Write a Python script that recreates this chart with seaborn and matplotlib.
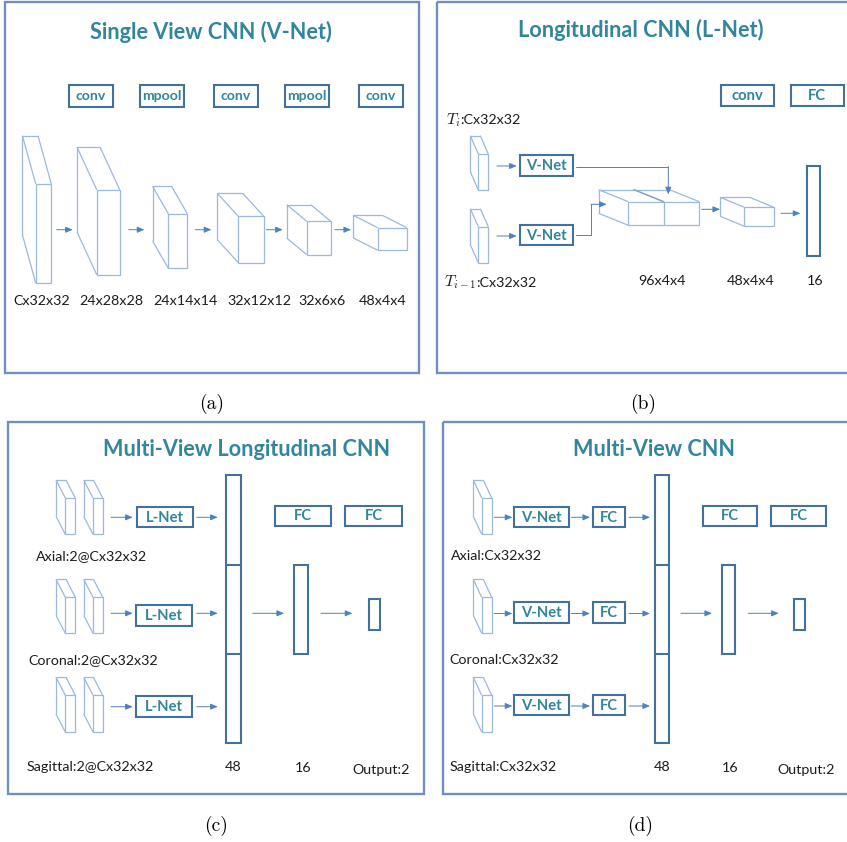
import matplotlib
matplotlib.use("Agg")
import matplotlib.pyplot as plt
from matplotlib.patches import Rectangle
import seaborn as sns

sns.set_theme(style="white")
plt.rcParams["font.family"] = ["Lato", "DejaVu Sans"]
plt.rcParams["mathtext.fontset"] = "cm"

# ---- text content ----
panel_titles = ["Single View CNN (V-Net)", "Longitudinal CNN (L-Net)",
                "Multi-View Longitudinal CNN", "Multi-View CNN"]
panel_tags = ["(a)", "(b)", "(c)", "(d)"]
vnet_ops = ["conv", "mpool", "conv", "mpool", "conv"]
vnet_shapes = ["Cx32x32", "24x28x28", "24x14x14", "32x12x12", "32x6x6", "48x4x4"]
lnet_ops = ["conv", "FC"]
lnet_times = [r"$T_i$", r"$T_{i-1}$"]
lnet_input_shape = ":Cx32x32"
lnet_shapes = ["96x4x4", "48x4x4", "16"]
views = ["Axial", "Coronal", "Sagittal"]
mvl_inputs = ["Axial:2@Cx32x32", "Coronal:2@Cx32x32", "Sagittal:2@Cx32x32"]
mv_inputs = ["Axial:Cx32x32", "Coronal:Cx32x32", "Sagittal:Cx32x32"]
fusion_sizes = ["48", "16", "Output:2"]
fusion_ops = ["FC", "FC"]

# ---- colours ----
TEAL = "#31859C"
EDGE = "#41719C"
FRAME = "#6F8FC0"
CUBE = "#9BB8E0"
ARROW = "#4F81BD"
INK = "#1c1c1c"

W, H = 847, 842
fig = plt.figure(figsize=(W / 100, H / 100), dpi=100)
ax = fig.add_axes([0, 0, 1, 1])
ax.set_xlim(0, W)
ax.set_ylim(H, 0)
ax.axis("off")
renderer = fig.canvas.get_renderer()


def fit_size(sample, width, **kw):
    t = ax.text(0, 0, sample, fontsize=10, **kw)
    w = t.get_window_extent(renderer).width
    t.remove()
    return 10 * width / w


TITLE_FS = fit_size(panel_titles[2], 271, weight="bold") * 1.06
LABEL_FS = fit_size(mvl_inputs[2], 124) * 1.02
OPA_FS = fit_size("mpool", 35, weight="bold") * 1.12
OP_FS = fit_size("V-Net", 38.7, weight="bold") * 1.05
TAG_FS = 14


def frame(x0, y0, x1, y1):
    ax.add_patch(Rectangle((x0, y0), x1 - x0, y1 - y0, fill=False,
                           ec=FRAME, lw=1.7))


def op_box(x0, y0, x1, y1, label, fs=None):
    ax.add_patch(Rectangle((x0, y0), x1 - x0, y1 - y0, fill=False,
                           ec=EDGE, lw=1.5))
    ax.text((x0 + x1) / 2, (y0 + y1) / 2 + 0.5, label, ha="center",
            va="center", color=TEAL, weight="bold", fontsize=fs or OP_FS)


def column(x0, y0, x1, y1, splits=()):
    ax.add_patch(Rectangle((x0, y0), x1 - x0, y1 - y0, fill=False,
                           ec=EDGE, lw=1.5))
    for s in splits:
        ax.plot([x0, x1], [s, s], color=EDGE, lw=1.5)


def cube(fx0, fy0, fx1, fy1, dx, dy, split=None):
    kw = dict(color=CUBE, lw=0.9, solid_capstyle="butt")
    ax.add_patch(Rectangle((fx0, fy0), fx1 - fx0, fy1 - fy0, fill=False,
                           ec=CUBE, lw=0.9))
    bx0, bx1, by0, by1 = fx0 + dx, fx1 + dx, fy0 + dy, fy1 + dy
    ax.plot([bx0, bx1], [by0, by0], **kw)
    ax.plot([bx0, bx0], [by0, by1], **kw)
    ax.plot([fx0, bx0], [fy0, by0], **kw)
    ax.plot([fx1, bx1], [fy0, by0], **kw)
    ax.plot([fx0, bx0], [fy1, by1], **kw)
    if split is not None:
        ax.plot([split, split], [fy0, fy1], **kw)
        ax.plot([split, split + dx], [fy0, by0], color="#7FA0CF", lw=1.1)


def arrow(x0, y0, x1, y1):
    ax.annotate("", xy=(x1, y1), xytext=(x0, y0),
                arrowprops=dict(arrowstyle="-|>,head_length=0.7,head_width=0.3",
                                color=ARROW, lw=0.7, shrinkA=0, shrinkB=0,
                                mutation_scale=6))


def label(x, y, s, ha="center", fs=None, va="center"):
    return ax.text(x, y, s, ha=ha, va=va, color=INK, fontsize=fs or LABEL_FS)


def title(x, y, s):
    ax.text(x, y, s, ha="center", va="center", color=TEAL, weight="bold",
            fontsize=TITLE_FS)


def tag(x, y, s):
    ax.text(x, y, s, ha="center", va="center", color="black",
            fontsize=TAG_FS, family="cmr10")


# ================= (a) single view CNN =================
frame(5, 2, 419, 373)
title(211, 32, panel_titles[0])
op_x = [(69, 113), (140, 184), (214, 258), (285, 329), (359, 403)]
for (x0, x1), op in zip(op_x, vnet_ops):
    op_box(x0, 85, x1, 107, op, OPA_FS)
cubes_a = [(35.7, 184, 51.3, 283, -13.3, -48.3),
           (96.7, 189.7, 119.7, 274.7, -19.7, -42.7),
           (168.3, 213.7, 187.3, 268.3, -15.7, -27.3),
           (238.3, 216.3, 263.7, 262.7, -21, -23),
           (306.7, 221.3, 330.7, 254.7, -20, -16.7),
           (377.7, 227.7, 406.7, 250.3, -24.3, -12.3)]
for c in cubes_a:
    cube(*c)
for x0, x1 in [(56.7, 72.7), (128.7, 144.3), (195.3, 211.3),
               (266.3, 282.7), (335, 351)]:
    arrow(x0, 229.7, x1, 229.7)
for x, s in zip([41.2, 111.7, 185.2, 259.3, 322.3, 382.3], vnet_shapes):
    label(x, 300.7, s)
tag(212, 404, panel_tags[0])

# ================= (b) longitudinal CNN =================
frame(437.3, 2, 849, 373)
title(640.8, 30, panel_titles[1])
op_box(721, 85, 774, 106, lnet_ops[0])
op_box(790.7, 85, 843.7, 106, lnet_ops[1])
for xt, y, t in zip([446, 444.5], [124, 286.7], lnet_times):
    m = label(xt, y, t, ha="left", fs=LABEL_FS * 1.12, va="baseline")
    x_end = ax.transData.inverted().transform(
        (m.get_window_extent(renderer).x1, 0))[0]
    label(x_end - 1.0, y, lnet_input_shape, ha="left", va="baseline")
cube(478.3, 154, 488.3, 190, -8, -18.3)
cube(478.3, 226.7, 488.3, 262.7, -8, -18)
arrow(497, 166, 516.7, 166)
arrow(497, 236, 516.7, 236)
op_box(520.3, 155.3, 573.3, 175.7, "V-Net")
op_box(520.3, 225, 573.3, 245.3, "V-Net")
cube(628.3, 201.7, 699.3, 225.3, -29.7, -12, split=663.7)
ax.plot([575.7, 668.3], [166.7, 166.7], color=ARROW, lw=0.7)
arrow(668.3, 166.7, 668.3, 194.3)
ax.plot([575.7, 591, 591], [235.3, 235.3, 204.3], color=ARROW, lw=0.7)
arrow(591, 204.3, 606.7, 204.3)
arrow(701.7, 209.3, 720, 209.3)
cube(744.3, 207.3, 773.7, 226.3, -24, -10)
arrow(781, 213.3, 800.3, 213.3)
column(807, 166.3, 820.3, 256)
for x, s in zip([662.2, 750.7, 814.7], lnet_shapes):
    label(x, 281, s)
tag(643, 404, panel_tags[1])

# shared layout of the multi-view rows
row_front = [(498, 534.3), (597.3, 633.3), (695.3, 732)]
row_mid = [517.3, 613.3, 706.7]
label_y = [555.7, 660, 767.3]

# ================= (c) multi-view longitudinal CNN =================
frame(8.3, 421.7, 424, 794)
title(246.7, 450, panel_titles[2])
lnet_boxes = [(137.3, 506.7, 192.7, 527.3), (136, 605, 192, 625.7),
              (136, 696, 192, 716.7)]
for (fy0, fy1), ym, bx in zip(row_front, row_mid, lnet_boxes):
    cube(65.3, fy0, 75.3, fy1, -9.3, -18)
    cube(93, fy0, 102.7, fy1, -9.3, -18)
    arrow(111, ym, 132.7, ym)
    op_box(*bx, "L-Net")
    arrow(196.7, ym, 217.7, ym)
column(226.3, 475, 240.7, 743.3, splits=(565, 653.7))
op_box(274.7, 505.7, 331.3, 526.3, fusion_ops[0])
op_box(345.3, 505.7, 401.7, 526.3, fusion_ops[1])
arrow(252.7, 613.3, 284, 613.3)
column(294, 564.7, 308.3, 654.3)
arrow(321, 613.3, 352.3, 613.3)
column(368.7, 599, 379.7, 629.7)
for x, y, s in zip([35.7, 28.3, 26.7], label_y, mvl_inputs):
    label(x, y, s, ha="left")
for x, y, s in zip([233, 302.7, 381], [767.3, 768.3, 770], fusion_sizes):
    label(x, y, s)
tag(216, 826, panel_tags[2])

# ================= (d) multi-view CNN =================
frame(443.3, 421.7, 849, 794)
title(653.8, 450, panel_titles[3])
vnet_rows = [(506.7, 527.3), (602.3, 623), (694.7, 715.3)]
row_mid_d = [517.3, 613.5, 706]
for (fy0, fy1), ym, (by0, by1) in zip(row_front, row_mid_d, vnet_rows):
    cube(481.7, fy0, 491.7, fy1, -8.4, -18)
    arrow(494.3, ym, 512.3, ym)
    op_box(514.3, by0, 568.7, by1, "V-Net")
    arrow(571.3, ym, 590, ym)
    op_box(593, by0, 625, by1, "FC")
    arrow(629, ym, 650, ym)
column(655.3, 475, 669.3, 743, splits=(565, 653.7))
op_box(703, 505.7, 757.3, 526.3, fusion_ops[0])
op_box(771.3, 505.7, 826.3, 526.3, fusion_ops[1])
arrow(681, 613.3, 712, 613.3)
column(722, 564.7, 735.3, 654.3)
arrow(748.3, 613.3, 778.7, 613.3)
column(794.3, 599, 805.3, 629.7)
for x, y, s in zip([451, 449.3, 450], label_y, mv_inputs):
    label(x, y, s, ha="left")
for x, y, s in zip([662, 730, 806.3], [767.3, 768.3, 770], fusion_sizes):
    label(x, y, s)
tag(640, 826, panel_tags[3])

fig.savefig("out.png", dpi=100)
